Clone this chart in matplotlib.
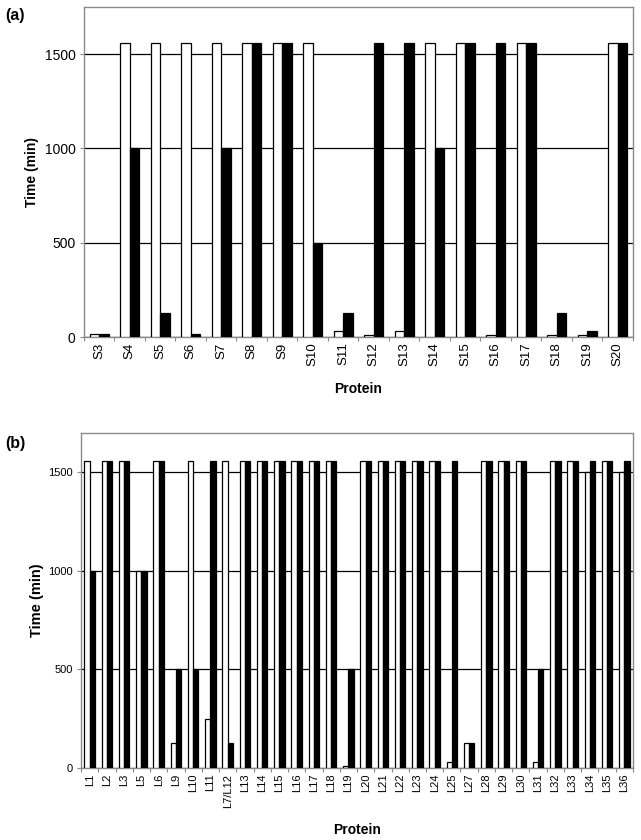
import numpy as np
import matplotlib
matplotlib.use("Agg")
import matplotlib.pyplot as plt

plt.rcParams['font.family'] = ['Liberation Sans', 'DejaVu Sans']

# panel (a): small subunit proteins, time (min)
s_names = ["S3", "S4", "S5", "S6", "S7", "S8", "S9", "S10", "S11", "S12",
           "S13", "S14", "S15", "S16", "S17", "S18", "S19", "S20"]
s_white = [15, 1560, 1560, 1560, 1560, 1560, 1560, 1560, 30, 10,
           30, 1560, 1560, 10, 1560, 10, 10, 1560]
s_black = [15, 1000, 125, 15, 1000, 1560, 1560, 500, 125, 1560,
           1560, 1000, 1560, 1560, 1560, 125, 30, 1560]

# panel (b): large subunit proteins
l_names = ["L1", "L2", "L3", "L5", "L6", "L9", "L10", "L11", "L7/L12", "L13",
           "L14", "L15", "L16", "L17", "L18", "L19", "L20", "L21", "L22", "L23",
           "L24", "L25", "L27", "L28", "L29", "L30", "L31", "L32", "L33", "L34",
           "L35", "L36"]
l_white = [1560, 1560, 1560, 1000, 1560, 125, 1560, 250, 1560, 1560,
           1560, 1560, 1560, 1560, 1560, 10, 1560, 1560, 1560, 1560,
           1560, 30, 125, 1560, 1560, 1560, 30, 1560, 1560, 1500,
           1560, 1500]
l_black = [1000, 1560, 1560, 1000, 1560, 500, 500, 1560, 125, 1560,
           1560, 1560, 1560, 1560, 1560, 500, 1560, 1560, 1560, 1560,
           1560, 1560, 125, 1560, 1560, 1560, 500, 1560, 1560, 1560,
           1560, 1560]

SPINE = "#8a8a8a"


def draw_panel(ax, names, white, black, ymax, tick_fs, xtick_fs, ylab_fs, ylab_pad):
    n = len(names)
    x = np.arange(n)
    w = 0.31
    ax.bar(x - w / 2, white, w, color="white", edgecolor="black", linewidth=0.9, zorder=3)
    ax.bar(x + w / 2, black, w, color="black", edgecolor="black", linewidth=0.9, zorder=3)
    ax.set_xlim(-0.5, n - 0.5)
    ax.set_ylim(0, ymax)
    ax.set_yticks([0, 500, 1000, 1500])
    ax.yaxis.grid(True, color="black", linewidth=0.9, zorder=0)
    ax.set_axisbelow(True)
    # category boundaries as major ticks, labels on minor ticks
    ax.set_xticks(np.arange(n + 1) - 0.5)
    ax.set_xticklabels([])
    ax.set_xticks(x, minor=True)
    ax.set_xticklabels(names, minor=True, rotation=90, fontsize=xtick_fs)
    ax.tick_params(axis="x", which="major", length=3, color=SPINE, width=0.8)
    ax.tick_params(axis="x", which="minor", length=0, pad=4)
    ax.tick_params(axis="y", length=3, color=SPINE, width=0.8, labelsize=tick_fs, pad=3)
    for sp in ax.spines.values():
        sp.set_color(SPINE)
        sp.set_linewidth(1.0)
    ax.set_ylabel("Time (min)", fontsize=ylab_fs, fontweight="bold", labelpad=ylab_pad)
    ax.set_xlabel("Protein", fontsize=10, fontweight="bold", labelpad=11)


fig = plt.figure(figsize=(6.41, 8.40), dpi=100)

ax1 = fig.add_axes([0.131, 0.5988, 0.8565, 0.3929])
draw_panel(ax1, s_names, s_white, s_black, 1750, 10, 9.5, 10, 4)

ax2 = fig.add_axes([0.1264, 0.0857, 0.8611, 0.3988])
draw_panel(ax2, l_names, l_white, l_black, 1700, 8, 8, 10.5, 3)

fig.text(0.008, 0.982, "(a)", fontsize=11.5, fontweight="bold", va="center")
fig.text(0.008, 0.472, "(b)", fontsize=11.5, fontweight="bold", va="center")

fig.savefig("out.png", dpi=100)
